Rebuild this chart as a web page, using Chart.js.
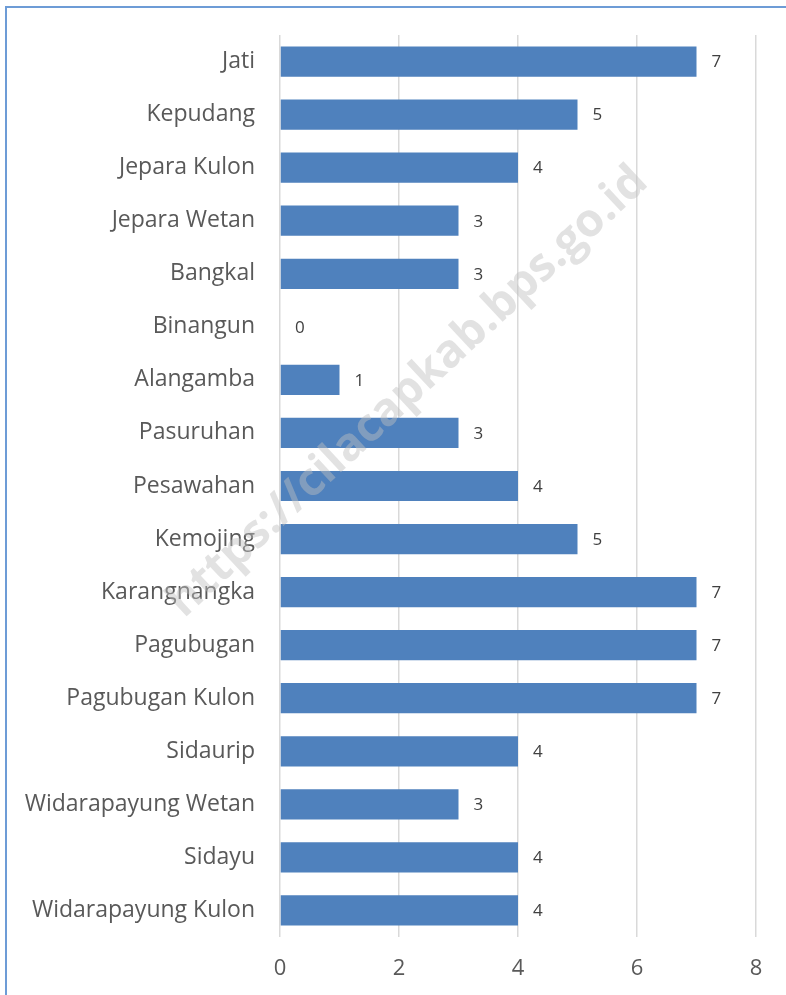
<!DOCTYPE html>
<html><head><meta charset="utf-8">
<script src="https://cdn.jsdelivr.net/npm/chart.js@4/dist/chart.umd.min.js"></script>
<style>
html,body{margin:0;padding:0;background:#fff;}
#wrap{position:relative;width:786px;height:995px;}
#frame{position:absolute;left:5px;top:6px;width:800px;height:1000px;border:2px solid #6d9cd6;box-sizing:border-box;pointer-events:none;}
canvas{position:absolute;left:0;top:0;}
</style></head><body>
<div id="wrap"><canvas id="c" width="786" height="995"></canvas><div id="frame"></div></div>
<script>
const categories = ["Jati","Kepudang","Jepara Kulon","Jepara Wetan","Bangkal","Binangun","Alangamba","Pasuruhan","Pesawahan","Kemojing","Karangnangka","Pagubugan","Pagubugan Kulon","Sidaurip","Widarapayung Wetan","Sidayu","Widarapayung Kulon"];
const values = [7,5,4,3,3,0,1,3,4,5,7,7,7,4,3,4,4];
const xTicks = [0,2,4,6,8];
const watermark = "https://cilacapkab.bps.go.id";

const FONT = "'Open Sans', 'Noto Sans', sans-serif";

const labelPlugin = {
  id:'labels',
  afterDatasetsDraw(chart){
    const ctx = chart.ctx;
    const meta = chart.getDatasetMeta(0);
    ctx.save();
    ctx.font = "17px " + FONT;
    ctx.fillStyle = "#404040";
    ctx.textBaseline = "middle";
    ctx.textAlign = "left";
    meta.data.forEach((bar,i)=>{
      ctx.fillText(String(values[i]), bar.x + 15, bar.y + 1);
    });
    ctx.restore();
  },
  afterDraw(chart){
    const ctx = chart.ctx;
    ctx.save();
    ctx.translate(408, 392);
    ctx.rotate(-43*Math.PI/180);
    ctx.font = "bold 46px " + FONT;
    ctx.fillStyle = "rgba(190,190,190,0.45)";
    ctx.textAlign = "center";
    ctx.textBaseline = "middle";
    ctx.fillText(watermark, 0, 0);
    ctx.restore();
  }
};

new Chart(document.getElementById('c'), {
  type:'bar',
  data:{labels:categories, datasets:[{data:values, backgroundColor:'#4f81bd', categoryPercentage:1, barPercentage:0.57}]},
  options:{
    indexAxis:'y',
    responsive:false,
    animation:false,
    layout:{padding:{left:0,right:30,top:35,bottom:0}},
    plugins:{legend:{display:false},tooltip:{enabled:false}},
    scales:{
      x:{
        min:0,max:8,
        afterBuildTicks(s){ s.ticks = xTicks.map(v=>({value:v})); },
        afterFit(s){ s.height = 58; },
        grid:{color:'#d9d9d9',lineWidth:1.5,drawTicks:false},
        border:{display:false},
        ticks:{color:'#595959',font:{size:22,family:FONT},padding:19}
      },
      y:{
        afterFit(s){ s.width = 280; s.paddingTop = 0; s.paddingBottom = 0; },
        grid:{display:false,drawTicks:false},
        border:{display:false},
        ticks:{color:'#595959',font:{size:23,family:FONT},padding:25,autoSkip:false}
      }
    }
  },
  plugins:[labelPlugin]
});
</script>
</body></html>
